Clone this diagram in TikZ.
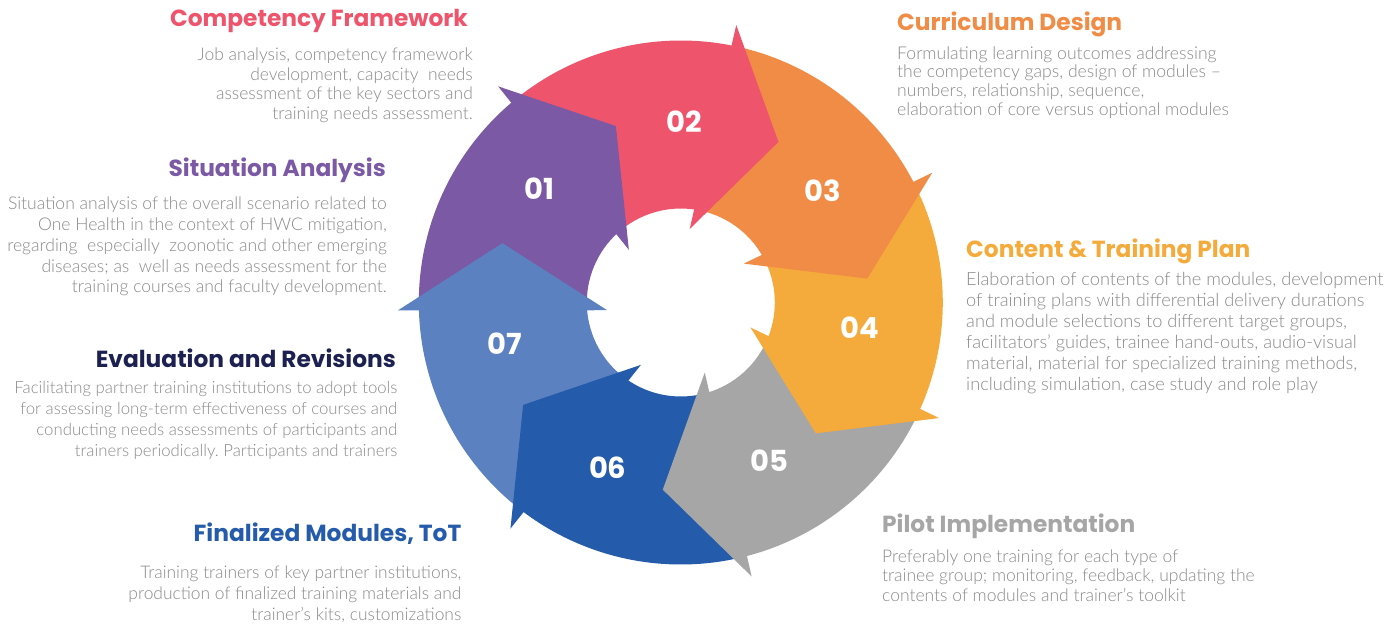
\documentclass[tikz,border=0pt]{standalone}
\usepackage{fontspec}
\setmainfont{Lato}[UprightFont={* Light}]
\newfontfamily\headfont{Poppins}
\usetikzlibrary{positioning,calc}
\definecolor{purp}{HTML}{7B59A4}
\definecolor{rose}{HTML}{EE556C}
\definecolor{tang}{HTML}{F08C46}
\definecolor{amber}{HTML}{F5AB3C}
\definecolor{stone}{HTML}{A6A6A6}
\definecolor{royal}{HTML}{245BAA}
\definecolor{sky}{HTML}{5B81C1}
\definecolor{ink}{HTML}{1C2152}
\definecolor{body}{HTML}{8A8A8A}

\begin{document}
\begin{tikzpicture}[x=1pt, y=1pt,
  num/.style={text=white, font=\headfont\bfseries\fontsize{29}{30}\selectfont},
  head/.style={font=\headfont\bfseries\fontsize{23.3}{26}\selectfont, inner sep=0pt},
  desc/.style 2 args={text=body, font=\frenchspacing\fontsize{#1}{#2}\selectfont, inner sep=0pt}]

  \fill[white] (0,0) rectangle (1384,-624);
  \coordinate (c) at (680.8,-302.5);

  % ring pieces, then the arrow heads on top
  \foreach \a/\col [remember=\a as \prev (initially 180)] in {128.6/purp, 77.1/rose, 25.7/tang, -25.7/amber, -77.1/stone, -128.6/royal, -180/sky}
    \fill[\col] ($(c)+(\prev:262)$) arc[start angle=\prev, end angle=\a, radius=262]
      -- ($(c)+(\a:94)$) arc[start angle=\a, end angle=\prev, radius=94] -- cycle;
  \foreach \a/\col in {128.6/purp, 77.1/rose, 25.7/tang, -25.7/amber, -77.1/stone, -128.6/royal, -180/sky}
    \fill[\col] ($(c)+(\a+1.6:283)$) -- ($(c)+(\a-18.4:188)$) -- ($(c)+(\a+6:74)$) -- cycle;

  \foreach \n/\ang in {01/141.2, 02/89, 03/38.3, 04/-7.9, 05/-60.8, 06/-113.8, 07/193.1}
    \node[num] (n\n) at ($(c)+(\ang:181)$) {\n};

  \node[head, text=rose, anchor=base east] (t1) at (468,-26.5) {Competency Framework};
  \node[desc={17.45}{19.5}, align=right, below=21.5pt of t1.base east, anchor=north east, xshift=5pt] (d1)
    {Job analysis, competency framework\\development, capacity \ needs\\assessment of the key sectors and\\training needs assessment.};

  \node[head, text=purp, anchor=base east] (t2) at (386,-176.7) {Situation Analysis};
  \node[desc={17.55}{20.8}, align=right, below=20pt of t2.base east, anchor=north east, xshift=1pt] (d2)
    {Situation analysis of the overall scenario related to\\One Health in the context of HWC mitigation,\\regarding \ especially \ zoonotic and other emerging\\diseases; as \ well as needs assessment for the\\training courses and faculty development.};

  \node[head, text=tang, anchor=base west] (t3) at (897,-30) {Curriculum Design};
  \node[desc={17.6}{18.9}, align=left, below=16pt of t3.base west, anchor=north west] (d3)
    {Formulating learning outcomes addressing\\the competency gaps, design of modules –\\numbers, relationship, sequence,\\elaboration of core versus optional modules};

  \node[head, text=amber, anchor=base west] (t4) at (966,-257.3) {Content \& Training Plan};
  \node[desc={18.2}{21}, align=left, below=15pt of t4.base west, anchor=north west] (d4)
    {Elaboration of contents of the modules, development\\of training plans with differential delivery durations\\and module selections to different target groups,\\facilitators' guides, trainee hand-outs, audio-visual\\material, material for specialized training methods,\\including simulation, case study and role play};

  \node[head, text=stone, anchor=base west] (t5) at (882,-532.3) {Pilot Implementation};
  \node[desc={17.5}{19.7}, align=left, below=17pt of t5.base west, anchor=north west] (d5)
    {Preferably one training for each type of\\trainee group; monitoring, feedback, updating the\\contents of modules and trainer’s toolkit};

  \node[head, text=royal, anchor=base east] (t6) at (461.5,-541.7) {Finalized Modules, ToT};
  \node[desc={17.4}{21}, align=right, below=23.5pt of t6.base east, anchor=north east] (d6)
    {Training trainers of key partner institutions,\\production of finalized training materials and\\trainer’s kits, customizations};

  \node[head, text=ink, anchor=base east] (t7) at (396,-367.7) {Evaluation and Revisions};
  \node[desc={16.75}{21}, align=right, below=13.5pt of t7.base east, anchor=north east, xshift=1.5pt] (d7)
    {Facilitating partner training institutions to adopt tools\\for assessing long-term effectiveness of courses and\\conducting needs assessments of participants and\\trainers periodically. Participants and trainers};
\end{tikzpicture}
\end{document}
